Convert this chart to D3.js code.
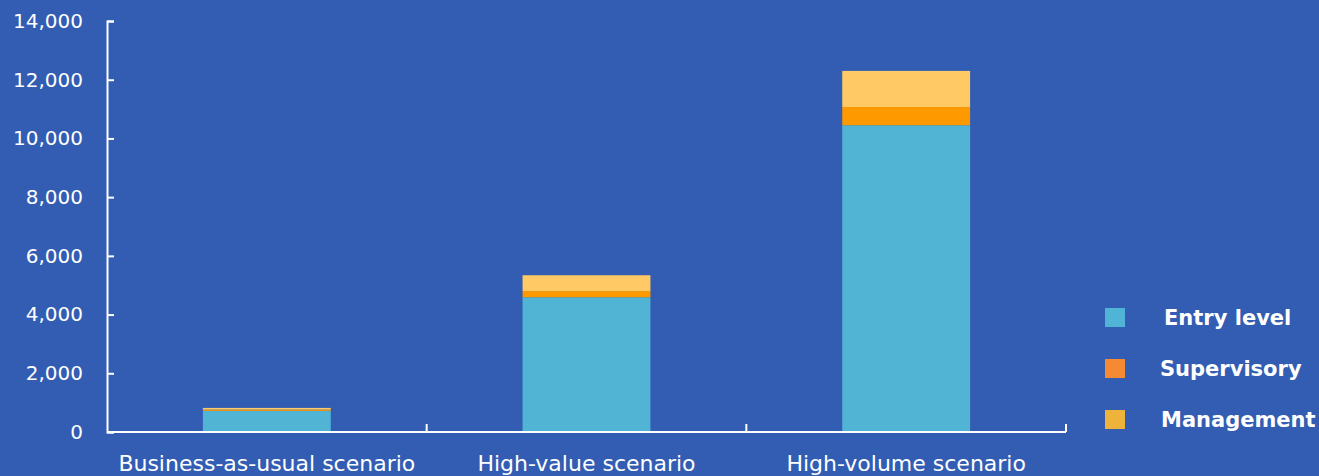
<!DOCTYPE html>
<html>
<head>
<meta charset="utf-8">
<script src="https://cdn.jsdelivr.net/npm/d3@7"></script>
<style>
  body { margin: 0; background: #325DB3; }
  svg text { font-family: 'Century Gothic', 'DejaVu Sans', sans-serif; fill: #fff; }
</style>
</head>
<body>
<div id="chart"></div>
<script>
// Data
var scenarios = ['Business-as-usual scenario', 'High-value scenario', 'High-volume scenario'];
var levels = ['Entry level', 'Supervisory', 'Management'];
var entryLevel = [720, 4590, 10450];
var supervisory = [45, 210, 620];
var management = [55, 540, 1230];
var yTicks = [0, 2000, 4000, 6000, 8000, 10000, 12000, 14000];

var barColors = ['#52B4D4', '#FF9900', '#FFC966'];
var legendColors = ['#4FB4D6', '#F58A32', '#EDB33A'];

// Chart Setup
var width = 1319, height = 476;
var margin = { top: 21, left: 107, right: 253, bottom: 44 };
var innerW = width - margin.left - margin.right;
var innerH = height - margin.top - margin.bottom;

var rows = scenarios.map(function(s, i) {
  return { scenario: s, 'Entry level': entryLevel[i], 'Supervisory': supervisory[i], 'Management': management[i] };
});
var stacked = d3.stack().keys(levels)(rows);

var xScale = d3.scaleBand()
  .domain(scenarios)
  .range([0, innerW])
  .paddingInner(0.6)
  .paddingOuter(0.3);
var yScale = d3.scaleLinear()
  .domain([0, 14000])
  .range([innerH, 0]);

var svg = d3.select('#chart')
  .append('svg')
  .attr('width', width)
  .attr('height', height);
var chart = svg.append('g')
  .attr('transform', 'translate(' + margin.left + ',' + margin.top + ')');

// Bars
chart.selectAll('.series')
  .data(stacked)
  .enter()
  .append('g')
  .attr('fill', function(d, i) { return barColors[i]; })
  .selectAll('rect')
  .data(function(d) { return d; })
  .enter()
  .append('rect')
  .attr('x', function(d) { return xScale(d.data.scenario); })
  .attr('y', function(d) { return yScale(d[1]); })
  .attr('width', xScale.bandwidth())
  .attr('height', function(d) { return yScale(d[0]) - yScale(d[1]); });

// Y-Axis
var yAxis = d3.axisLeft(yScale)
  .tickValues(yTicks)
  .tickFormat(d3.format(','))
  .tickSizeInner(-7)
  .tickSizeOuter(-7)
  .tickPadding(24);
var yG = chart.append('g').call(yAxis);
yG.selectAll('path, line').attr('stroke', '#fff').attr('stroke-width', 2);
yG.selectAll('text').style('font-size', '20px');

// X-Axis
var xEdge = d3.scaleLinear().domain([0, scenarios.length]).range([0, innerW]);
var xG = chart.append('g').attr('transform', 'translate(0,' + innerH + ')');
xG.append('line')
  .attr('x1', 0).attr('x2', innerW)
  .attr('stroke', '#fff').attr('stroke-width', 2);
xG.selectAll('.xtick')
  .data(d3.range(1, scenarios.length + 1))
  .enter()
  .append('line')
  .attr('x1', function(d) { return xEdge(d); })
  .attr('x2', function(d) { return xEdge(d); })
  .attr('y1', 0).attr('y2', -8)
  .attr('stroke', '#fff').attr('stroke-width', 2);
xG.selectAll('.xlabel')
  .data(scenarios)
  .enter()
  .append('text')
  .attr('x', function(d) { return xScale(d) + xScale.bandwidth() / 2; })
  .attr('y', 39)
  .attr('text-anchor', 'middle')
  .style('font-size', '22px')
  .text(function(d) { return d; });

// Legend
var legendY = d3.scalePoint().domain(levels).range([317, 419]);
var legendTextX = [1164, 1160, 1161];
var legend = svg.selectAll('.legend')
  .data(levels)
  .enter()
  .append('g');
legend.append('rect')
  .attr('x', 1105)
  .attr('y', function(d) { return legendY(d) - 9; })
  .attr('width', 20)
  .attr('height', 19)
  .attr('fill', function(d, i) { return legendColors[i]; });
legend.append('text')
  .attr('x', function(d, i) { return legendTextX[i]; })
  .attr('y', function(d) { return legendY(d) + 8; })
  .style('font-size', '21px')
  .style('font-weight', 'bold')
  .text(function(d) { return d; });
</script>
</body>
</html>
